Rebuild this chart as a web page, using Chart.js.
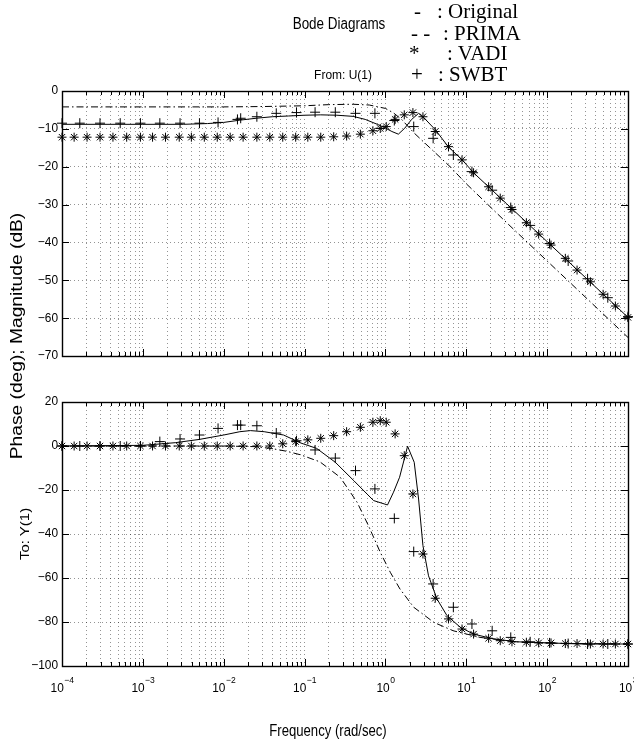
<!DOCTYPE html>
<html>
<head>
<meta charset="utf-8">
<title>Bode Diagrams</title>
<script src="https://cdn.jsdelivr.net/npm/chart.js@4/dist/chart.umd.min.js"></script>
<style>
    html, body { margin: 0; padding: 0; background: #fff; }
    #wrap { position: relative; width: 634px; height: 746px; overflow: hidden; }
    #wrap canvas { position: absolute; left: 0; top: 0; }
    .lbl { position: absolute; white-space: nowrap; color: #000; line-height: 1;
           font-family: 'Liberation Sans', Arial, Helvetica, sans-serif; }
    .serif { font-family: 'Liberation Serif', 'Times New Roman', serif; font-size: 21px; }
</style>
</head>
<body>
<div id="wrap">
    <canvas id="magChart" width="634" height="746"></canvas>
    <canvas id="phaseChart" width="634" height="746"></canvas>

    <div class="lbl" style="left:339px;top:24px;font-size:16px;transform:translate(-50%,-50%) scaleX(0.84);">Bode Diagrams</div>
    <div class="lbl" style="left:343px;top:74px;font-size:13px;transform:translate(-50%,-50%) scaleX(0.92);">From: U(1)</div>

    <div class="lbl serif" style="left:414px;top:1px;">-</div>
    <div class="lbl serif" style="left:437px;top:1px;">: Original</div>
    <div class="lbl serif" style="left:411px;top:23px;">- -</div>
    <div class="lbl serif" style="left:443px;top:23px;">: PRIMA</div>
    <div class="lbl serif" style="left:409px;top:43px;">*</div>
    <div class="lbl serif" style="left:447px;top:43px;">: VADI</div>
    <div class="lbl serif" style="left:411px;top:64px;">+</div>
    <div class="lbl serif" style="left:438px;top:64px;">: SWBT</div>

    <div class="lbl" style="left:17px;top:336px;font-size:16px;transform:translate(-50%,-50%) rotate(-90deg) scaleX(1.2);">Phase (deg); Magnitude (dB)</div>
    <div class="lbl" style="left:25px;top:534px;font-size:12px;transform:translate(-50%,-50%) rotate(-90deg) scaleX(1.25);">To: Y(1)</div>
    <div class="lbl" style="left:328px;top:731px;font-size:16px;transform:translate(-50%,-50%) scaleX(0.82);">Frequency (rad/sec)</div>
</div>

<script>
(function () {
    'use strict';

    // ── axes ──────────────────────────────────────────────────────────────
    const xTickExps  = [-4, -3, -2, -1, 0, 1, 2, 3];
    const magTicks   = [0, -10, -20, -30, -40, -50, -60, -70];
    const phaseTicks = [20, 0, -20, -40, -60, -80, -100];

    // ── Original (solid) ──────────────────────────────────────────────────
    const origMagLogW = [-4, -3, -2.5, -2.2, -2, -1.8, -1.6, -1.4, -1.2, -1, -0.8, -0.6, -0.4, -0.25, -0.1, 0, 0.08, 0.16, 0.24, 0.32, 0.41, 0.5, 0.62, 0.78, 0.95, 1.09, 1.5, 2, 2.5, 3];
    const origMag     = [-8.8, -8.8, -8.8, -8.6, -8.3, -7.7, -7.2, -6.8, -6.6, -6.4, -6.3, -6.4, -6.7, -7.5, -8.8, -9.8, -10.7, -11.4, -9.8, -7.6, -5.9, -7.6, -10.3, -14.8, -18.2, -21.6, -29.8, -39.8, -49.8, -59.8];
    const origPhLogW  = [-4, -3, -2.6, -2.3, -2, -1.8, -1.67, -1.5, -1.26, -1.05, -0.85, -0.62, -0.39, -0.147, 0.026, 0.1, 0.175, 0.274, 0.356, 0.41, 0.464, 0.533, 0.637, 0.761, 0.926, 1.09, 1.34, 1.627, 2, 2.45, 3];
    const origPh      = [0, 0.3, 1.5, 3, 5, 6.5, 7, 6.5, 5, 1.4, -1.1, -7.4, -15.8, -24.8, -26.8, -21, -14.2, -0.1, -7.4, -24.1, -45.3, -59, -69.5, -77.1, -82.4, -85.5, -87.7, -89, -89.5, -90, -90];

    // ── PRIMA (dash-dot) ──────────────────────────────────────────────────
    const primaMagLogW = [-4, -2, -1.5, -1, -0.7, -0.4, -0.2, 0, 0.1, 0.2, 0.35, 0.55, 0.8, 1, 1.5, 2, 2.5, 3];
    const primaMag     = [-4.2, -4.2, -4.1, -3.9, -3.6, -3.5, -3.7, -4.6, -5.8, -7.5, -11.0, -15.0, -20.0, -24.5, -34.8, -44.9, -55.0, -65.1];
    const primaPhLogW  = [-4, -2, -1.6, -1.4, -1.22, -1.05, -0.81, -0.56, -0.35, -0.21, -0.064, 0.06, 0.18, 0.35, 0.6, 0.84, 1.17, 1.63, 2, 3];
    const primaPh      = [0, 0, -0.3, -1.2, -2.4, -4.0, -7.2, -14.2, -25.6, -36.2, -48.3, -57.4, -65, -73.3, -80.2, -84, -87, -89, -89.6, -90];

    // ── VADI (*) ──────────────────────────────────────────────────────────
    const vadiLogW = [-4.0, -3.85, -3.69, -3.53, -3.37, -3.20, -3.03, -2.88, -2.72, -2.55, -2.40, -2.24, -2.08, -1.92, -1.76, -1.59, -1.43, -1.27, -1.11, -0.96,
                      -0.80, -0.64, -0.48, -0.31, -0.155, -0.064, 0.01, 0.12, 0.233, 0.34, 0.464, 0.616, 0.78, 0.947, 1.09, 1.276, 1.42, 1.565, 1.743, 1.895,
                      2.048, 2.225, 2.37, 2.535, 2.692, 2.844, 3.0];
    const vadiMag  = [-12.2, -12.2, -12.2, -12.2, -12.2, -12.2, -12.2, -12.2, -12.2, -12.2, -12.2, -12.2, -12.2, -12.2, -12.2, -12.2, -12.2, -12.2, -12.2, -12.2,
                      -12.2, -12.1, -11.9, -11.4, -10.5, -9.9, -9.4, -7.5, -6.3, -5.7, -6.8, -10.7, -14.7, -18.2, -21.6, -25.3, -28.3, -31.3, -34.8, -37.8,
                      -40.7, -44.2, -47.3, -50.4, -53.7, -56.8, -59.8];
    const vadiPh   = [0, 0, 0, 0, 0, 0, 0, 0, 0, 0, 0, 0, 0, 0, 0, 0, 0, 1.0, 2.0, 2.8,
                      3.5, 4.7, 6.5, 8.5, 10.8, 11.5, 10.8, 5.5, -4.4, -21.8, -49.1, -69.2, -78.6, -83.2, -85.5, -87.4, -88.5, -89.0, -89.2, -89.5,
                      -89.5, -89.8, -89.8, -90, -90, -90, -90];

    // ── SWBT (+) ──────────────────────────────────────────────────────────
    const swbtLogW = [-4, -3.78, -3.53, -3.28, -3.03, -2.79, -2.54, -2.30, -2.07, -1.83, -1.79, -1.59, -1.35, -1.10, -0.87, -0.62,
                      -0.37, -0.13, 0.11, 0.35, 0.59, 0.84, 1.07, 1.32, 1.55, 1.79, 2.03, 2.26, 2.5, 2.75, 3.0];
    const swbtMag  = [-8.5, -8.5, -8.5, -8.5, -8.5, -8.5, -8.5, -8.5, -8.3, -7.5, -7.2, -6.8, -5.9, -5.7, -5.6, -5.6,
                      -5.9, -5.9, -7.8, -9.4, -12.5, -16.9, -21.3, -26.2, -30.8, -35.5, -40.3, -44.9, -49.6, -54.6, -59.6];
    const swbtPh   = [0, 0, 0, 0, 0, 2.0, 3.2, 5.0, 8.0, 9.5, 9.5, 9.2, 5.9, 2.4, -1.8, -5.5,
                      -11.2, -19.5, -32.9, -48.0, -62.7, -73.3, -80.9, -84.0, -87.0, -89.0, -89.5, -89.8, -90, -90, -90];

    // ── helpers ───────────────────────────────────────────────────────────
    const FONT = '"Liberation Sans", Arial, Helvetica, sans-serif';
    const pts = (logw, vals) => logw.map((e, i) => ({ x: Math.pow(10, e), y: vals[i] }));

    // grid at 1..9 x 10^n for every decade shown
    const xGridValues = [];
    xTickExps.forEach((d, i) => {
        if (i === xTickExps.length - 1) { xGridValues.push(Math.pow(10, d)); return; }
        for (let k = 1; k <= 9; k++) xGridValues.push(k * Math.pow(10, d));
    });

    function text(ctx, str, x, y, size, sx, align, base) {
        ctx.save();
        ctx.font = `${size}px ${FONT}`;
        ctx.fillStyle = '#000';
        ctx.translate(x, y);
        ctx.scale(sx, 1);
        ctx.textAlign = align;
        ctx.textBaseline = base;
        ctx.fillText(str, 0, 0);
        ctx.restore();
    }
    function textWidth(ctx, str, size, sx) {
        ctx.save();
        ctx.font = `${size}px ${FONT}`;
        const w = ctx.measureText(str).width * sx;
        ctx.restore();
        return w;
    }
    const fmt = (v) => (v < 0 ? '\u2212' + Math.abs(v) : String(v));

    // frame, inward tick marks, tick labels
    const axesDecor = {
        id: 'axesDecor',
        afterDraw(chart, args, opts) {
            const { ctx, chartArea: a } = chart;
            const xs = chart.scales.x, ys = chart.scales.y;
            ctx.save();
            ctx.strokeStyle = '#000';
            ctx.lineWidth = 1;
            ctx.beginPath();
            xs.ticks.forEach(t => {
                const px = Math.round(xs.getPixelForValue(t.value)) + 0.5;
                const major = Math.abs(Math.log10(t.value) - Math.round(Math.log10(t.value))) < 1e-6;
                const len = major ? 7 : 4;
                ctx.moveTo(px, a.top); ctx.lineTo(px, a.top + len);
                ctx.moveTo(px, a.bottom); ctx.lineTo(px, a.bottom - len);
            });
            ys.ticks.forEach(t => {
                const py = Math.round(ys.getPixelForValue(t.value)) + 0.5;
                ctx.moveTo(a.left, py); ctx.lineTo(a.left + 7, py);
                ctx.moveTo(a.right, py); ctx.lineTo(a.right - 7, py);
            });
            ctx.stroke();
            ctx.lineWidth = 1.4;
            ctx.strokeRect(Math.round(a.left) + 0.5, Math.round(a.top) + 0.5,
                           Math.round(a.right - a.left), Math.round(a.bottom - a.top));
            ctx.restore();

            ys.ticks.forEach(t => {
                text(ctx, fmt(t.value), a.left - 4, ys.getPixelForValue(t.value), 12.5, 0.95, 'right', 'middle');
            });

            if (opts.xLabels) {
                const w10 = textWidth(ctx, '10', 12.5, 0.95);
                xTickExps.forEach(d => {
                    const px = xs.getPixelForValue(Math.pow(10, d));
                    const ex = fmt(d);
                    const wex = textWidth(ctx, ex, 9, 0.95);
                    const x0 = px - (w10 + wex) / 2;
                    text(ctx, '10', x0, 692, 12.5, 0.95, 'left', 'alphabetic');
                    text(ctx, ex, x0 + w10 + 0.5, 683, 9, 0.95, 'left', 'alphabetic');
                });
            }
        }
    };

    function datasets(oLW, o, pLW, p, vLW, v, sLW, s) {
        return [
            { label: 'Original', data: pts(oLW, o), showLine: true, borderColor: '#000', borderWidth: 1,
              pointRadius: 0, tension: 0, clip: false },
            { label: 'PRIMA', data: pts(pLW, p), showLine: true, borderColor: '#000', borderWidth: 1,
              borderDash: [7, 3, 1.5, 3], pointRadius: 0, tension: 0, clip: false },
            { label: 'VADI', data: pts(vLW, v), showLine: false, pointStyle: 'star', pointRadius: 4.5,
              borderColor: '#000', backgroundColor: '#000', pointBorderWidth: 1, clip: false },
            { label: 'SWBT', data: pts(sLW, s), showLine: false, pointStyle: 'cross', pointRadius: 5,
              borderColor: '#000', backgroundColor: '#000', pointBorderWidth: 1, clip: false }
        ];
    }

    const gridOpts = { color: 'rgba(0,0,0,0.42)', lineWidth: 1, drawTicks: false };

    function makeChart(id, yTicks, padding, dsets, xLabels) {
        return new Chart(document.getElementById(id), {
            type: 'scatter',
            data: { datasets: dsets },
            options: {
                responsive: false,
                animation: false,
                events: [],
                layout: { padding },
                plugins: { legend: { display: false }, tooltip: { enabled: false }, axesDecor: { xLabels } },
                scales: {
                    x: {
                        type: 'logarithmic',
                        min: Math.pow(10, xTickExps[0]),
                        max: Math.pow(10, xTickExps[xTickExps.length - 1]),
                        ticks: { display: false },
                        grid: gridOpts,
                        border: { display: false, dash: [1, 3] },
                        afterBuildTicks: (s) => { s.ticks = xGridValues.map(v => ({ value: v })); },
                        afterFit: (s) => { s.height = 0; }
                    },
                    y: {
                        min: Math.min(...yTicks),
                        max: Math.max(...yTicks),
                        ticks: { display: false },
                        grid: gridOpts,
                        border: { display: false, dash: [1, 3] },
                        afterBuildTicks: (s) => { s.ticks = yTicks.map(v => ({ value: v })); },
                        afterFit: (s) => { s.width = 62; }
                    }
                }
            },
            plugins: [axesDecor]
        });
    }

    makeChart('magChart', magTicks, { left: 0, right: 6, top: 91, bottom: 390 },
        datasets(origMagLogW, origMag, primaMagLogW, primaMag, vadiLogW, vadiMag, swbtLogW, swbtMag), false);
    makeChart('phaseChart', phaseTicks, { left: 0, right: 6, top: 402, bottom: 80 },
        datasets(origPhLogW, origPh, primaPhLogW, primaPh, vadiLogW, vadiPh, swbtLogW, swbtPh), true);
})();
</script>
</body>
</html>
